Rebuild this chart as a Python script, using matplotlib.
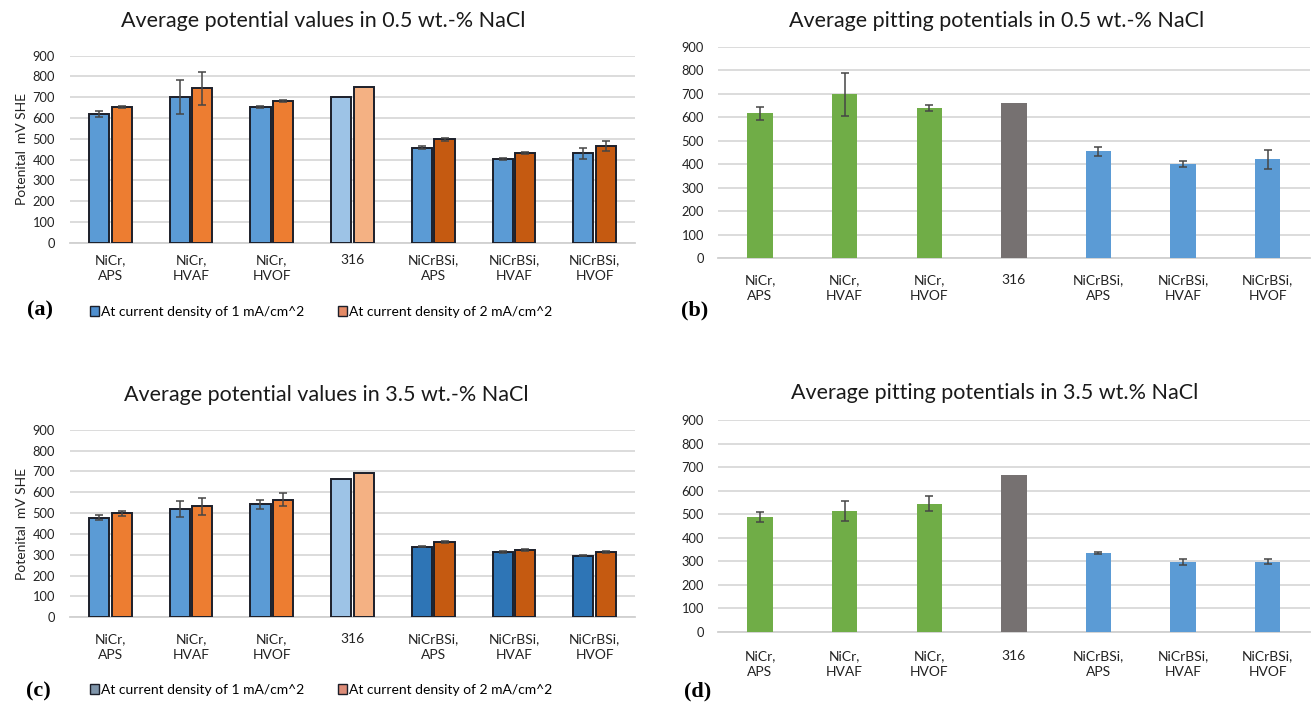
import matplotlib.pyplot as plt
from matplotlib.patches import Patch
import numpy as np

# coating / material on the x axis
categories = ['NiCr,\nAPS', 'NiCr,\nHVAF', 'NiCr,\nHVOF', '316',
              'NiCrBSi,\nAPS', 'NiCrBSi,\nHVAF', 'NiCrBSi,\nHVOF']
yticks = [0, 100, 200, 300, 400, 500, 600, 700, 800, 900]

# average potentials in 0.5 wt.-% NaCl (mV SHE)
pot05_1ma = [619, 700, 651, 700, 457, 403, 430]
pot05_1ma_err = [16, 82, 5, 0, 6, 5, 26]
pot05_2ma = [652, 743, 683, 751, 497, 430, 465]
pot05_2ma_err = [6, 80, 6, 0, 6, 5, 26]

# average pitting potentials in 0.5 wt.-% NaCl
pit05 = [617, 698, 638, 659, 455, 400, 421]
pit05_err = [28, 92, 12, 0, 20, 12, 40]

# average potentials in 3.5 wt.-% NaCl
pot35_1ma = [478, 518, 542, 662, 339, 313, 296]
pot35_1ma_err = [13, 38, 22, 0, 3, 4, 2]
pot35_2ma = [500, 532, 565, 691, 363, 323, 313]
pot35_2ma_err = [12, 40, 33, 0, 5, 5, 5]

# average pitting potentials in 3.5 wt.% NaCl
pit35 = [487, 513, 545, 665, 333, 297, 298]
pit35_err = [20, 42, 32, 0, 4, 13, 12]

legend_labels = ['At current density of 1 mA/cm^2', 'At current density of 2 mA/cm^2']

plt.rcParams['font.family'] = ['Lato', 'DejaVu Sans']
W, H = 1314, 703
fig = plt.figure(figsize=(W / 100, H / 100), dpi=100)


def px_axes(left, right, top, bottom):
    return fig.add_axes([left / W, 1 - bottom / H, (right - left) / W, (bottom - top) / H])


def style_axes(ax, ypad, xpad):
    ax.set_ylim(0, 900)
    ax.set_xlim(-0.5, len(categories) - 0.5)
    ax.set_yticks(yticks)
    ax.set_xticks(np.arange(len(categories)))
    ax.set_xticklabels(categories, fontsize=10, linespacing=1.4, color='#222222')
    ax.tick_params(axis='y', length=0, pad=ypad, labelsize=9.3, labelcolor='#222222')
    ax.tick_params(axis='x', length=0, pad=xpad)
    for s in ['top', 'left', 'right']:
        ax.spines[s].set_visible(False)
    ax.spines['bottom'].set_color('#D0D0D0')
    ax.spines['bottom'].set_linewidth(1.3)
    ax.yaxis.grid(True, color='#D9D9D9', lw=1.3)
    ax.set_axisbelow(True)


def errbars(ax, x, y, err):
    x = np.asarray(x, float)
    y = np.asarray(y, float)
    err = np.asarray(err, float)
    m = err > 0
    ax.errorbar(x[m], y[m], yerr=err[m], fmt='none', ecolor='#454545',
                elinewidth=1.1, capsize=3, capthick=1.1, zorder=4)


def grouped(ax, v1, e1, v2, e2, c1, c2):
    x = np.arange(len(categories))
    w, off = 0.25, 0.14
    ax.bar(x - off, v1, w, color=c1, edgecolor='#1c1f2a', linewidth=1.4, zorder=3)
    ax.bar(x + off, v2, w, color=c2, edgecolor='#1c1f2a', linewidth=1.4, zorder=3)
    errbars(ax, x - off, v1, e1)
    errbars(ax, x + off, v2, e2)


def single(ax, v, e, colors):
    x = np.arange(len(categories))
    ax.bar(x, v, 0.3, color=colors, zorder=3)
    errbars(ax, x, v, e)


blue, orange = '#5B9BD5', '#ED7D31'
lblue, lorange = '#9DC3E6', '#F4B183'
dblue, dorange = '#2E75B6', '#C55A11'
green, grey = '#70AD47', '#767171'

# (a)
ax_a = px_axes(70, 635, 55.7, 242.7)
grouped(ax_a, pot05_1ma, pot05_1ma_err, pot05_2ma, pot05_2ma_err,
        [blue] * 3 + [lblue] + [blue] * 3,
        [orange] * 3 + [lorange] + [dorange] * 3)
style_axes(ax_a, 10.8, 8)

# (b)
ax_b = px_axes(717.7, 1310, 46.7, 258.3)
single(ax_b, pit05, pit05_err, [green] * 3 + [grey] + [blue] * 3)
style_axes(ax_b, 9.9, 11.5)

# (c)
ax_c = px_axes(70, 635, 429.8, 617.3)
grouped(ax_c, pot35_1ma, pot35_1ma_err, pot35_2ma, pot35_2ma_err,
        [blue] * 3 + [lblue] + [dblue] * 3,
        [orange] * 3 + [lorange] + [dorange] * 3)
style_axes(ax_c, 10.8, 11.5)

# (d)
ax_e = px_axes(717.7, 1310, 420, 631.7)
single(ax_e, pit35, pit35_err, [green] * 3 + [grey] + [blue] * 3)
style_axes(ax_e, 9.9, 13)

# titles
title_kw = dict(ha='center', va='center', fontsize=15.5, color='#1a1a1a')
fig.text(323 / W, 1 - 21 / H, 'Average potential values in 0.5 wt.-% NaCl', **title_kw)
fig.text(997 / W, 1 - 21 / H, 'Average pitting potentials in 0.5 wt.-% NaCl', **title_kw)
fig.text(326 / W, 1 - 395 / H, 'Average potential values in 3.5 wt.-% NaCl', **title_kw)
fig.text(995 / W, 1 - 393 / H, 'Average pitting potentials in 3.5 wt.% NaCl', **title_kw)

# y labels
for yc in [149, 523.5]:
    fig.text(22 / W, 1 - yc / H, 'Potenital  mV SHE', rotation=90,
             ha='center', va='center', fontsize=10, color='#222222')

# legends
leg_kw = dict(loc='center left', ncol=2, frameon=False, fontsize=10,
              handlelength=0.65, handleheight=0.65, handletextpad=0.15,
              columnspacing=2.4, borderaxespad=0, borderpad=0)
fig.legend([Patch(facecolor='#4F8FCF', edgecolor='#1c1f2a'),
            Patch(facecolor='#E48A66', edgecolor='#1c1f2a')],
           legend_labels, bbox_to_anchor=(90 / W, 1 - 312 / H), **leg_kw)
fig.legend([Patch(facecolor='#7F95AA', edgecolor='#1c1f2a'),
            Patch(facecolor='#DC8C78', edgecolor='#1c1f2a')],
           legend_labels, bbox_to_anchor=(90 / W, 1 - 690 / H), **leg_kw)

# panel letters
letter_kw = dict(ha='center', va='center', fontsize=16, fontweight='bold',
                 family='Liberation Serif')
fig.text(40 / W, 1 - 310 / H, '(a)', **letter_kw)
fig.text(695 / W, 1 - 310 / H, '(b)', **letter_kw)
fig.text(38 / W, 1 - 691 / H, '(c)', **letter_kw)
fig.text(698 / W, 1 - 691 / H, '(d)', **letter_kw)

fig.savefig('out.png', dpi=100)
